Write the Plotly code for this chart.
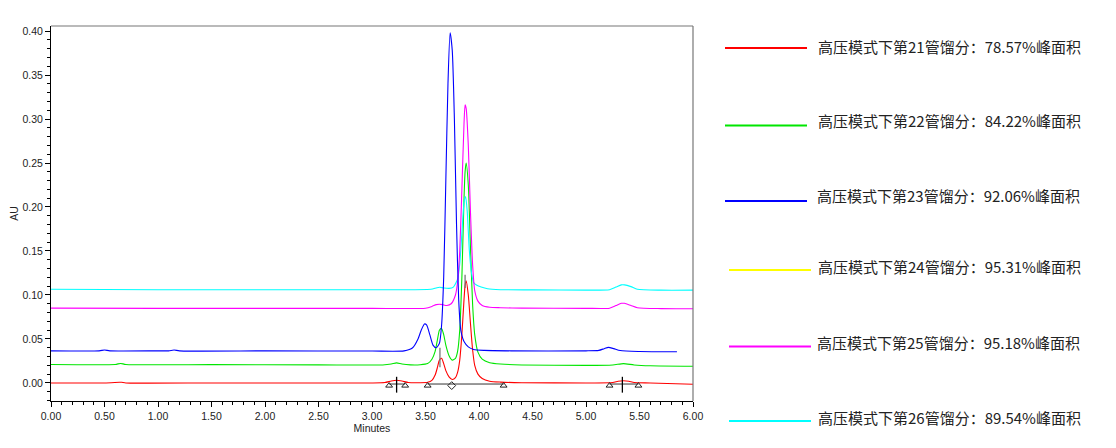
import plotly.graph_objects as go

# ---------------- data ----------------
series_names = [
    "高压模式下第21管馏分：78.57%峰面积",
    "高压模式下第22管馏分：84.22%峰面积",
    "高压模式下第23管馏分：92.06%峰面积",
    "高压模式下第24管馏分：95.31%峰面积",
    "高压模式下第25管馏分：95.18%峰面积",
    "高压模式下第26管馏分：89.54%峰面积",
]

t21 = [0, 0.5, 0.64, 0.66, 0.7, 1.5, 2.5, 3.0, 3.12, 3.18, 3.23, 3.28, 3.34, 3.45, 3.52, 3.56,
       3.59, 3.61, 3.63, 3.65, 3.67, 3.69, 3.72, 3.75, 3.78, 3.80, 3.82, 3.84, 3.86, 3.87, 3.88,
       3.90, 3.92, 3.94, 3.96, 3.99, 4.03, 4.10, 4.20, 4.40, 5.0, 5.25, 5.30, 5.35, 5.40, 5.45,
       5.6, 6.0]
au21 = [0, 0, 0.0008, 0.0008, 0, 0, 0, 0, 0.0005, 0.0022, 0.003, 0.0022, 0.0005, 0.0003, 0.0008,
        0.003, 0.009, 0.017, 0.026, 0.028, 0.022, 0.014, 0.007, 0.004, 0.006, 0.012, 0.026, 0.055,
        0.095, 0.111, 0.116, 0.100, 0.068, 0.038, 0.020, 0.010, 0.005, 0.002, 0.001, 0.0003, 0,
        0.0005, 0.002, 0.0025, 0.002, 0.0005, 0, -0.0015]

t22 = [0, 0.6, 0.65, 0.7, 1.5, 2.5, 3.1, 3.18, 3.23, 3.28, 3.36, 3.45, 3.52, 3.56, 3.59, 3.61,
       3.63, 3.65, 3.67, 3.69, 3.72, 3.75, 3.78, 3.80, 3.82, 3.84, 3.86, 3.87, 3.88, 3.90, 3.92,
       3.94, 3.96, 3.99, 4.03, 4.10, 4.20, 4.40, 5.0, 5.25, 5.35, 5.45, 5.6, 6.0]
au22 = [0.021, 0.021, 0.0222, 0.021, 0.0208, 0.0206, 0.0205, 0.0215, 0.0228, 0.0215, 0.0206,
        0.0207, 0.022, 0.027, 0.036, 0.048, 0.060, 0.062, 0.055, 0.043, 0.031, 0.026, 0.028,
        0.036, 0.060, 0.120, 0.210, 0.240, 0.250, 0.225, 0.155, 0.090, 0.055, 0.035, 0.027,
        0.023, 0.0215, 0.0205, 0.020, 0.0205, 0.022, 0.0205, 0.0195, 0.019]

t23 = [0, 0.45, 0.50, 0.55, 1.0, 1.10, 1.15, 1.20, 2.0, 3.0, 3.30, 3.38, 3.43, 3.46, 3.49, 3.51,
       3.54, 3.57, 3.60, 3.63, 3.65, 3.67, 3.69, 3.71, 3.73, 3.75, 3.77, 3.79, 3.81, 3.83, 3.86,
       3.90, 3.95, 4.05, 4.3, 5.0, 5.12, 5.17, 5.21, 5.26, 5.32, 5.5, 5.85]
au23 = [0.0365, 0.0365, 0.0375, 0.0365, 0.0365, 0.0365, 0.0375, 0.0365, 0.0365, 0.0363, 0.0365,
        0.040, 0.050, 0.060, 0.067, 0.066, 0.055, 0.043, 0.040, 0.045, 0.065, 0.120, 0.230,
        0.340, 0.398, 0.378, 0.300, 0.180, 0.095, 0.060, 0.047, 0.041, 0.038, 0.037, 0.0365,
        0.0365, 0.037, 0.039, 0.0405, 0.039, 0.0368, 0.0358, 0.0355]

t24 = []
au24 = []

t25 = [0, 1.0, 2.0, 3.0, 3.50, 3.56, 3.60, 3.63, 3.66, 3.70, 3.74, 3.78, 3.80, 3.82, 3.84, 3.86,
       3.87, 3.88, 3.90, 3.92, 3.94, 3.96, 3.99, 4.03, 4.10, 4.20, 4.40, 5.0, 5.22, 5.28, 5.33,
       5.36, 5.42, 5.48, 5.7, 6.0]
au25 = [0.085, 0.0848, 0.0848, 0.0848, 0.085, 0.087, 0.089, 0.0895, 0.089, 0.088, 0.090, 0.100,
        0.115, 0.150, 0.220, 0.295, 0.316, 0.312, 0.270, 0.195, 0.135, 0.105, 0.093, 0.088,
        0.086, 0.0855, 0.085, 0.0848, 0.085, 0.088, 0.0905, 0.0905, 0.088, 0.0855, 0.0845, 0.0843]

t26 = [0, 1.0, 2.0, 3.0, 3.55, 3.60, 3.63, 3.67, 3.72, 3.76, 3.80, 3.82, 3.84, 3.86, 3.875, 3.89,
       3.91, 3.93, 3.95, 3.98, 4.02, 4.08, 4.2, 4.5, 5.0, 5.22, 5.28, 5.33, 5.36, 5.42, 5.48,
       5.7, 6.0]
au26 = [0.1065, 0.106, 0.106, 0.106, 0.1065, 0.108, 0.1088, 0.108, 0.1075, 0.109, 0.118, 0.135,
        0.170, 0.205, 0.212, 0.195, 0.150, 0.125, 0.114, 0.111, 0.109, 0.107, 0.106, 0.1058,
        0.1055, 0.106, 0.109, 0.1115, 0.1115, 0.1095, 0.1065, 0.1055, 0.1055]

# integration marks on trace 21
mark_tri_t = [3.16, 3.31, 3.52, 4.23, 5.22, 5.49]
mark_tri_au = [-0.003, -0.003, -0.003, -0.003, -0.003, -0.003]
mark_drop_t = [3.745]
mark_drop_au = [-0.003]
base_segments = [([3.16, 3.31], [-0.0012, -0.0012]),
                 ([3.52, 4.23], [-0.0012, -0.0012]),
                 ([5.22, 5.49], [-0.0012, -0.0012])]
apex_ticks = [([3.23, 3.23], [-0.011, 0.007], "#000000"),
              ([5.34, 5.34], [-0.011, 0.007], "#000000"),
              ([3.635, 3.635], [0.018, 0.040], "#777777"),
              ([3.87, 3.87], [0.108, 0.123], "#777777")]

x_ticks = [0, 0.5, 1.0, 1.5, 2.0, 2.5, 3.0, 3.5, 4.0, 4.5, 5.0, 5.5, 6.0]
y_ticks = [0.00, 0.05, 0.10, 0.15, 0.20, 0.25, 0.30, 0.35, 0.40]

# ---------------- styling ----------------
colors = ["#FF0000", "#00E600", "#0000FF", "#FFFF00", "#FF00FF", "#00FFFF"]
traces_t = [t21, t22, t23, t24, t25, t26]
traces_au = [au21, au22, au23, au24, au25, au26]

OFF = 8  # page body margin
W, H = 1116 - OFF, 448 - OFF
L, T = 51 - OFF, 26 - OFF
PR, PB = 693 - OFF, 401 - OFF
R, B = W - PR, H - PB
PW, PH = PR - L, PB - T


def px_x(px):
    return (px - OFF - L) / PW


def px_y(py):
    return (PB - (py - OFF)) / PH


fig = go.Figure()
order = [0, 1, 3, 5, 4, 2]
for i in order:
    fig.add_trace(go.Scatter(
        x=traces_t[i], y=traces_au[i], mode="lines", name=series_names[i],
        line=dict(color=colors[i], width=1.1, shape="spline", smoothing=0.6),
        showlegend=False, hoverinfo="skip"))

for xs, ys in base_segments:
    fig.add_trace(go.Scatter(x=xs, y=ys, mode="lines", line=dict(color="#333333", width=1),
                             showlegend=False, hoverinfo="skip"))
for xs, ys, c in apex_ticks:
    fig.add_trace(go.Scatter(x=xs, y=ys, mode="lines", line=dict(color=c, width=1.3),
                             showlegend=False, hoverinfo="skip"))
fig.add_trace(go.Scatter(x=mark_tri_t, y=mark_tri_au, mode="markers",
                         marker=dict(symbol="triangle-up-open", size=6, color="#222222",
                                     line=dict(width=1)),
                         showlegend=False, hoverinfo="skip"))
fig.add_trace(go.Scatter(x=mark_drop_t, y=mark_drop_au, mode="markers",
                         marker=dict(symbol="diamond-open", size=6, color="#222222",
                                     line=dict(width=1)),
                         showlegend=False, hoverinfo="skip"))

tick_font = dict(family="Liberation Sans, Arial, sans-serif", size=10.5, color="#222222")

fig.update_xaxes(
    range=[0, 6], tickvals=x_ticks, tickformat=".2f", ticks="outside", ticklen=5,
    tickcolor="#000000", showline=True, linecolor="#000000", linewidth=1, mirror=False,
    showgrid=False, zeroline=False, tickfont=tick_font, automargin=False,
    minor=dict(dtick=0.1, ticks="outside", ticklen=3, tickcolor="#000000", showgrid=False),
    title=dict(text="Minutes", font=tick_font, standoff=4))
fig.update_yaxes(
    range=[-0.0205, 0.4057], tickvals=y_ticks, tickformat=".2f", ticks="outside", ticklen=5,
    tickcolor="#000000", showline=True, linecolor="#000000", linewidth=1, mirror=False,
    showgrid=False, zeroline=False, tickfont=tick_font, automargin=False,
    minor=dict(dtick=0.01, ticks="outside", ticklen=3, tickcolor="#000000", showgrid=False),
    title=dict(text="AU", font=tick_font, standoff=6))

shapes = [
    dict(type="line", xref="paper", yref="paper", x0=0, x1=1, y0=1, y1=1,
         line=dict(color="#777777", width=1.2)),
    dict(type="line", xref="paper", yref="paper", x0=1, x1=1, y0=0, y1=1,
         line=dict(color="#777777", width=1.2)),
]
annotations = []

legend_line_y = [48, 125.5, 201, 270, 346.5, 421]
legend_text_y = [46, 120, 195, 266, 342, 417]
legend_line_x = [(725, 807), (725, 807), (725, 807), (729, 811), (729, 811), (729, 811)]
legend_text_x = [816, 816, 815, 816, 815, 816]
for i, name in enumerate(series_names):
    x0, x1 = legend_line_x[i]
    shapes.append(dict(type="line", xref="paper", yref="paper",
                       x0=px_x(x0), x1=px_x(x1), y0=px_y(legend_line_y[i]), y1=px_y(legend_line_y[i]),
                       line=dict(color=colors[i], width=2)))
    annotations.append(dict(text=name, xref="paper", yref="paper",
                            x=px_x(legend_text_x[i]), y=px_y(legend_text_y[i]),
                            xanchor="left", yanchor="middle", showarrow=False,
                            font=dict(family="Noto Sans CJK SC, sans-serif", size=15,
                                      color="#222222")))

fig.update_layout(
    width=W, height=H, margin=dict(l=L, r=R, t=T, b=B),
    plot_bgcolor="#FFFFFF", paper_bgcolor="#FFFFFF",
    shapes=shapes, annotations=annotations, showlegend=False)

fig.write_html("out.html")
